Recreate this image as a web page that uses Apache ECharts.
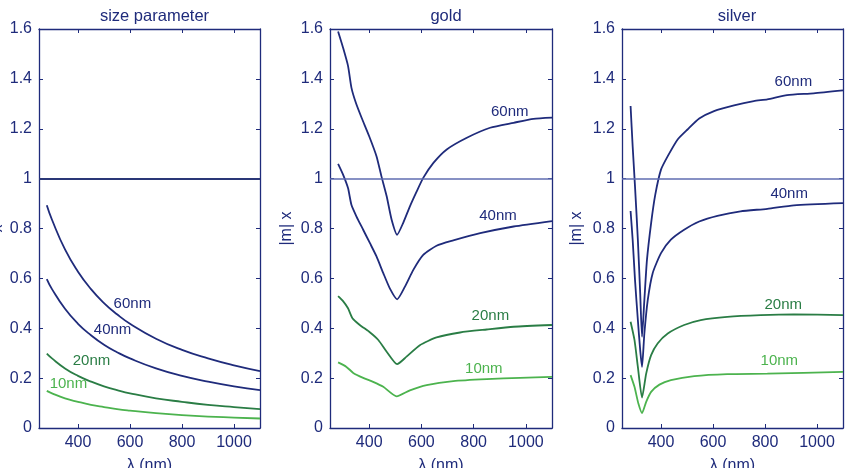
<!DOCTYPE html>
<html>
<head>
<meta charset="utf-8">
<script src="https://cdn.jsdelivr.net/npm/echarts@6/dist/echarts.min.js"></script>
<style>
  html, body { margin: 0; padding: 0; background: #fff; }
  #box { width: 848px; height: 468px; }
</style>
</head>
<body>
<div id="box"></div>
<script>
// tick labels
const xTicks = [400, 600, 800, 1000];
const panelTitles = ['size parameter', 'gold', 'silver'];
const sizeNames = ['60nm', '40nm', '20nm', '10nm'];

// size parameter (same wavelength grid for all four)
const lambdaSize = [280, 300, 350, 400, 450, 500, 550, 600, 700, 800, 900, 1000, 1100];
const size60 = [0.893, 0.835, 0.716, 0.627, 0.557, 0.501, 0.456, 0.418, 0.358, 0.313, 0.279, 0.251, 0.228];
const size40 = [0.597, 0.557, 0.478, 0.418, 0.372, 0.334, 0.304, 0.279, 0.239, 0.209, 0.186, 0.167, 0.152];
const size20 = [0.298, 0.279, 0.239, 0.209, 0.186, 0.167, 0.152, 0.139, 0.119, 0.105, 0.093, 0.084, 0.076];
const size10 = [0.149, 0.139, 0.119, 0.105, 0.093, 0.084, 0.076, 0.070, 0.060, 0.052, 0.046, 0.042, 0.038];

// gold  [lambda, |m|x]
const gold60 = [[281,1.59],[300,1.525],[319,1.452],[332,1.365],[349,1.304],[371,1.244],[400,1.17],[428,1.09],[447,1.009],[467,0.929],[486,0.835],[507,0.775],[530,0.822],[556,0.889],[582,0.949],[607,1.003],[646,1.063],[697,1.117],[774,1.164],[863,1.204],[953,1.224],[1029,1.24],[1100,1.245]];
const gold40 = [[281,1.059],[300,1.016],[319,0.962],[332,0.895],[351,0.849],[377,0.795],[403,0.741],[428,0.688],[454,0.621],[479,0.56],[507,0.516],[537,0.567],[569,0.634],[607,0.694],[658,0.731],[722,0.752],[825,0.781],[953,0.808],[1100,0.83]];
const gold20 = [[281,0.529],[300,0.509],[319,0.48],[336,0.44],[364,0.413],[400,0.386],[435,0.353],[467,0.306],[507,0.256],[543,0.286],[594,0.332],[658,0.363],[748,0.383],[850,0.395],[953,0.406],[1100,0.413]];
const gold10 = [[281,0.263],[313,0.245],[339,0.221],[377,0.201],[415,0.185],[454,0.165],[505,0.127],[556,0.151],[620,0.172],[722,0.188],[850,0.196],[978,0.201],[1100,0.205]];

// silver
const silver60 = [[283,1.291],[291,1.13],[300,0.969],[311,0.755],[320,0.54],[327,0.366],[336,0.513],[346,0.674],[362,0.822],[378,0.936],[400,1.036],[426,1.09],[464,1.157],[502,1.197],[547,1.241],[604,1.271],[681,1.294],[757,1.311],[809,1.318],[885,1.335],[987,1.342],[1100,1.354]];
const silver40 = [[283,0.87],[291,0.755],[300,0.594],[311,0.433],[320,0.312],[327,0.245],[336,0.379],[349,0.513],[368,0.621],[400,0.701],[438,0.755],[489,0.795],[547,0.828],[617,0.851],[706,0.869],[809,0.879],[911,0.893],[1100,0.902]];
const silver20 = [[283,0.426],[298,0.353],[311,0.245],[327,0.122],[343,0.218],[362,0.292],[387,0.339],[426,0.379],[489,0.413],[553,0.433],[655,0.446],[783,0.453],[911,0.456],[1100,0.453]];
const silver10 = [[283,0.212],[298,0.165],[313,0.098],[327,0.06],[343,0.105],[362,0.145],[394,0.174],[438,0.192],[528,0.208],[655,0.216],[809,0.218],[1100,0.225]];

// where the curve names sit (data coords)
const sizeLabelAt = [[611, 0.497], [535, 0.393], [454, 0.269], [365, 0.176]];
const goldLabelAt = [[940, 1.267], [895, 0.849], [866, 0.449], [841, 0.235]];
const silverLabelAt = [[911, 1.385], [895, 0.936], [872, 0.493], [857, 0.269]];

const navy = '#1f2b7b';
const dkGreen = '#2a7d45';
const ltGreen = '#4cb34e';
const curveColors = [navy, navy, dkGreen, ltGreen];
const font = 'Liberation Sans, Arial, Helvetica, sans-serif';

const grids = [
  { left: 39, top: 29, width: 221, height: 399, outerBoundsMode: 'none' },
  { left: 330, top: 29, width: 222, height: 399, outerBoundsMode: 'none' },
  { left: 622, top: 29, width: 221, height: 399, outerBoundsMode: 'none' }
];
const titleX = [149.5, 441, 732];
const yNameGap = [32, 35, 37];

const zip = (xs, ys) => xs.map((x, i) => [x, ys[i]]);
const panels = [
  [zip(lambdaSize, size60), zip(lambdaSize, size40), zip(lambdaSize, size20), zip(lambdaSize, size10)],
  [gold60, gold40, gold20, gold10],
  [silver60, silver40, silver20, silver10]
];
const labelAt = [sizeLabelAt, goldLabelAt, silverLabelAt];

const xAxis = [], yAxis = [], series = [], title = [];

panels.forEach((curves, p) => {
  const lineStyle = { color: navy, width: 1.3 };
  const tick = { inside: true, length: 4, lineStyle: { color: navy, width: 1 } };
  xAxis.push({
    gridIndex: p, type: 'value', min: 250, max: 1100,
    name: 'λ (nm)', nameLocation: 'middle', nameGap: 30,
    nameTextStyle: { color: navy, fontSize: 16, fontFamily: font },
    axisLine: { show: true, onZero: false, lineStyle },
    axisTick: Object.assign({ customValues: xTicks }, tick),
    axisLabel: { customValues: xTicks, formatter: v => String(v), color: navy, fontSize: 16, fontFamily: font, margin: 7 },
    splitLine: { show: false }
  });
  xAxis.push({
    gridIndex: p, type: 'value', min: 250, max: 1100, position: 'top',
    axisLine: { show: true, onZero: false, lineStyle },
    axisTick: Object.assign({ customValues: xTicks }, tick),
    axisLabel: { show: false },
    splitLine: { show: false }
  });
  yAxis.push({
    gridIndex: p, type: 'value', min: 0, max: 1.6, interval: 0.2,
    name: p === 0 ? 'x' : '|m| x', nameLocation: 'middle', nameGap: yNameGap[p],
    nameTextStyle: { color: navy, fontSize: 16, fontFamily: font },
    axisLine: { show: true, onZero: false, lineStyle },
    axisTick: tick,
    axisLabel: { color: navy, fontSize: 16, fontFamily: font, margin: 7 },
    splitLine: { show: false }
  });
  yAxis.push({
    gridIndex: p, type: 'value', min: 0, max: 1.6, interval: 0.2, position: 'right',
    axisLine: { show: true, onZero: false, lineStyle },
    axisTick: tick,
    axisLabel: { show: false },
    splitLine: { show: false }
  });
  title.push({
    text: panelTitles[p], left: titleX[p], top: 3, textAlign: 'center',
    textStyle: { color: navy, fontSize: 16.5, fontWeight: 'normal', fontFamily: font }
  });

  curves.forEach((data, c) => {
    const s = {
      type: 'line', xAxisIndex: 2 * p, yAxisIndex: 2 * p,
      data, showSymbol: false, smooth: p === 0 ? true : 0.2,
      lineStyle: { color: curveColors[c], width: 1.8 }, itemStyle: { color: curveColors[c] }
    };
    if (c === 0) {
      // the |m|x = 1 reference line
      s.markLine = {
        silent: true, symbol: 'none', label: { show: false },
        data: [{ yAxis: 1 }],
        lineStyle: p === 0 ? { color: '#2a3777', width: 2, type: 'solid' } : { color: '#5f6db0', width: 1.5, type: 'solid' }
      };
    }
    series.push(s);
  });

  // curve names, drawn as text at their anchors
  series.push({
    type: 'scatter', xAxisIndex: 2 * p, yAxisIndex: 2 * p, symbolSize: 1, silent: true,
    itemStyle: { color: 'rgba(0,0,0,0)' },
    data: labelAt[p].map((v, c) => ({
      value: v, name: sizeNames[c],
      label: { color: curveColors[c] }
    })),
    label: {
      show: true, position: [0, 0], align: 'center', verticalAlign: 'middle',
      formatter: '{b}', fontSize: 15, fontFamily: font, opacity: 1
    }
  });
});

const myChart = echarts.init(document.getElementById('box'));
myChart.setOption({
  animation: false,
  backgroundColor: '#fff',
  title, grid: grids, xAxis, yAxis, series
});
</script>
</body>
</html>
